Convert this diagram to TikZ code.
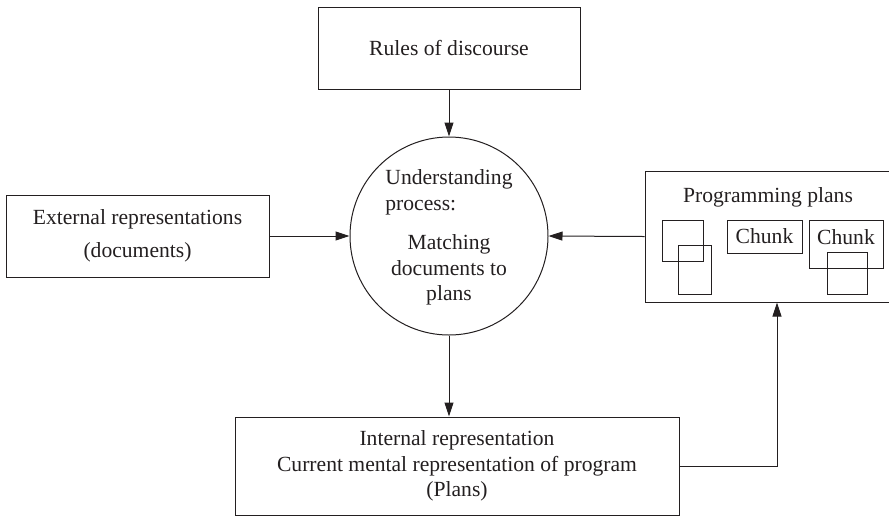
\documentclass[tikz,border=0pt]{standalone}
\usepackage{fontspec}
\setmainfont{Liberation Serif}
\usetikzlibrary{arrows.meta,positioning,calc}
\definecolor{DInk}{HTML}{231F20}

\begin{document}
\begin{tikzpicture}[x=0.5pt,y=-0.5pt,>={Triangle[length=7pt,width=4.5pt]},
    every node/.style={font=\fontsize{10.8}{12.75}\selectfont,text=DInk},
    box/.style={draw=DInk,line width=0.5pt,inner sep=0pt,align=center},
    planbox/.style={draw=DInk,line width=0.5pt},
    link/.style={->,draw=DInk,line width=0.5pt}]
    \useasboundingbox (0,0) rectangle (889,516);

    \node[box,minimum width=131pt,minimum height=41pt] (rules) at (449,48) {Rules of discourse};

    \node[box,circle,minimum size=99pt] (proc) at (449,236) {\begin{tabular}[b]{@{}l@{}}Understanding\\process:\end{tabular}\\[7pt]Matching\\documents to\\plans};

    \node[box,minimum width=131.5pt,minimum height=41pt] (ext) at (137.5,236) {\raisebox{-2pt}{External representations}\\[3.5pt]\raisebox{-2pt}{(documents)}};

    \node[box,minimum width=130pt,minimum height=65.5pt] (plans) at (775,236.5) {};
    \node (plantitle) at (768,197) {Programming plans};
    \node[box,minimum width=37.5pt,minimum height=16.5pt] (chunka) at (764.5,236.5) {Chunk};
    \node (chunkb) at (846,237) {Chunk};
    % plan fragments
    \draw[planbox] (662,220) rectangle (703,261);
    \draw[planbox] (678,245) rectangle (711,294);
    \draw[planbox] (809,220) rectangle (883,268);
    \draw[planbox] (827,252) rectangle (867,294);

    \node[box,minimum width=222pt,minimum height=49pt] (internal) at (457,466) {\raisebox{-1.5pt}{Internal representation}\\\raisebox{-1.5pt}{Current mental representation of program}\\\raisebox{-1.5pt}{(Plans)}};

    \draw[link] (rules) -- (proc);
    \draw[link] (ext) -- (proc);
    \draw[link] (plans.west) -- (proc.east);
    \draw[link] (proc.south) -- (proc.south |- internal.north);
    \draw[link] (internal.east) -| ([xshift=1pt]plans.south);
\end{tikzpicture}
\end{document}
